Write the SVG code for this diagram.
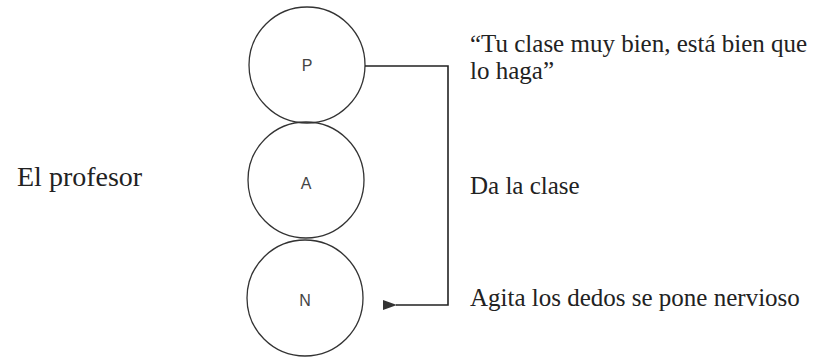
<svg xmlns="http://www.w3.org/2000/svg" width="829" height="357" viewBox="0 0 829 357">
<defs>
<style>
.c{fill:none;stroke:#333;stroke-width:1.3}
.l{font-family:"Liberation Sans",Arial,sans-serif;font-size:16px;fill:#444;text-anchor:middle}
.t{font-family:"Liberation Serif","Times New Roman",serif;font-size:25px;fill:#222}
.big{font-size:28px}
.w{fill:none;stroke:#222;stroke-width:1.6}
</style>
<marker id="ah" viewBox="0 0 14 10" refX="1" refY="5" markerWidth="14" markerHeight="10" markerUnits="userSpaceOnUse" orient="auto">
<path d="M14,0 L0,5 L14,10 Z" fill="#333"/>
</marker>
</defs>
<rect width="829" height="357" fill="#fff"/>
<text class="t big" x="17" y="186">El profesor</text>
<g id="nodeP"><circle class="c" cx="307" cy="65" r="58"/><text class="l" x="307" y="71">P</text></g>
<g id="nodeA"><circle class="c" cx="306" cy="180" r="58"/><text class="l" x="306" y="189">A</text></g>
<g id="nodeN"><circle class="c" cx="305" cy="298" r="58"/><text class="l" x="305" y="306">N</text></g>
<g id="connectors"><path class="w" d="M365,66 H448 V305 H396" marker-end="url(#ah)"/></g>
<text class="t" x="470" y="52">“Tu clase muy bien, está bien que</text>
<text class="t" x="470" y="79">lo haga”</text>
<text class="t" x="470" y="194">Da la clase</text>
<text class="t" x="470" y="306">Agita los dedos se pone nervioso</text>
</svg>
